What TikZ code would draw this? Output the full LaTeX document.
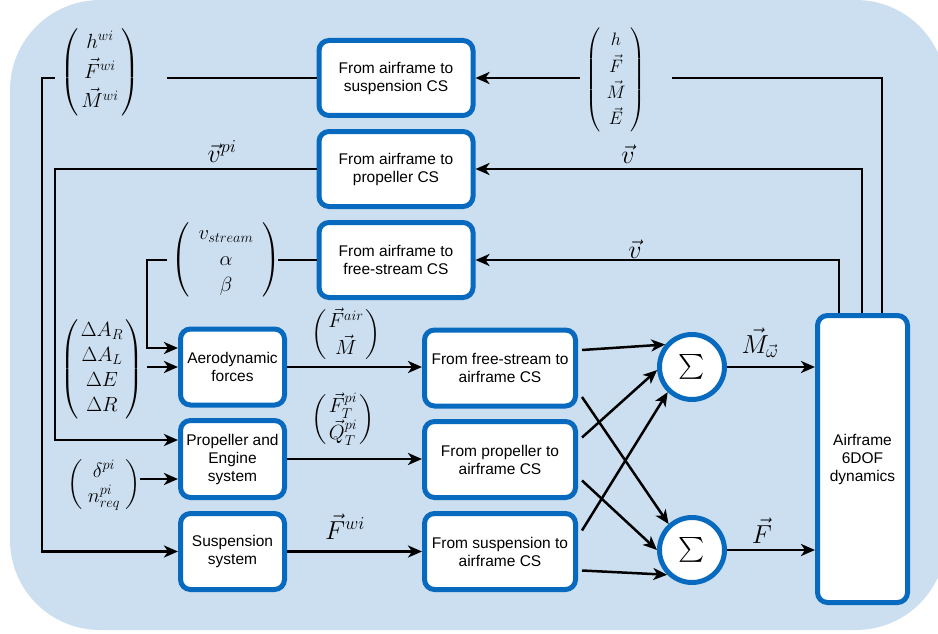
\RequirePackage{fix-cm}
\documentclass[tikz,border=0pt]{standalone}
\usepackage{amsmath}
\usepackage{fontspec}
\newfontfamily\boxfont{Liberation Sans}
\usetikzlibrary{arrows.meta,calc}

\definecolor{bgblue}{RGB}{204,223,240}
\definecolor{edgeblue}{RGB}{8,106,190}

% column vector in round brackets: [side padding]{row stretch}{rows}
\newcommand{\vecmat}[3][0pt]{%
  \renewcommand\arraystretch{#2}%
  \left(\hspace{#1}\begin{matrix}#3\end{matrix}\hspace{#1}\right)}

\tikzset{
  blk/.style={draw=edgeblue, line width=5pt, fill=white, rounded corners=10pt,
    font=\boxfont\fontsize{15.5}{18}\selectfont, align=center, inner sep=0pt},
  topblk/.style={blk, minimum width=154pt, minimum height=75pt},
  leftblk/.style={blk, minimum width=104pt, minimum height=76pt},
  midblk/.style={blk, minimum width=151pt, minimum height=76pt},
  sumnode/.style={circle, draw=edgeblue, line width=5pt, fill=white,
    minimum size=65pt, inner sep=0pt, font=\fontsize{24}{28}\selectfont},
  wire/.style={line width=2.5pt},
  arr/.style={wire, -{Stealth[length=14pt,width=12pt,inset=4pt]}},
  mlabel/.style={inner sep=0pt, font=\fontsize{20.5}{25}\selectfont},
  vlabel/.style={inner sep=0pt, font=\fontsize{26}{30}\selectfont},
}

\begin{document}
\begin{tikzpicture}[x=1pt,y=-1pt]
\useasboundingbox (0,0) rectangle (938,634);
\begin{scope}
  \clip (0,0) rectangle (938,634);
  \fill[bgblue, rounded corners=90pt] (10,0) rectangle (946,630);
\end{scope}

% coordinate transformation blocks (top row)
\node[topblk] (b1) at (396,78)  {From airframe to\\suspension CS};
\node[topblk] (b2) at (396,169) {From airframe to\\propeller CS};
\node[topblk] (b3) at (396,260) {From airframe to\\free-stream CS};

% force and moment models
\node[leftblk] (aero) at (232.5,367)   {Aerodynamic\\forces};
\node[leftblk, minimum height=77pt] (prop) at (232.5,459) {Propeller and\\Engine\\system};
\node[leftblk] (susp) at (232.5,551.5) {Suspension\\system};

% back to the airframe frame
\node[midblk] (fs)   at (500,368)   {From free-stream to\\airframe CS};
\node[midblk] (pr)   at (500,459.5) {From propeller to\\airframe CS};
\node[midblk] (sus2) at (500,551.5) {From suspension to\\airframe CS};

% summation and rigid body dynamics
\node[sumnode] (st) at (692,367) {$\textstyle\sum$};
\node[sumnode] (sb) at (692,550) {$\textstyle\sum$};
\node[blk, minimum width=90pt, minimum height=287pt] (af) at (862.5,459)
  {Airframe\\6DOF\\dynamics};

% feedback: states to the suspension
\coordinate (r1) at (882,78);
\coordinate (m1r) at (672,78);
\coordinate (m1l) at (580,78);
\coordinate (w1r) at (167,78);
\coordinate (w1l) at (55,78);
\coordinate (w1c) at (42,78);
\draw[wire] (af.north -| r1) -- (r1) -- (m1r);
\draw[arr] (m1l) -- (b1.east);
\draw[wire] (b1.west) -- (w1r);
\draw[arr] (w1l) -- (w1c) |- (susp.west);

% feedback: velocity to the propeller
\coordinate (r2) at (862,169);
\coordinate (c2) at (55,169);
\draw[arr] (af.north -| r2) |- (b2.east);
\draw[arr] (b2.west) -- (c2) |- ($(prop.west)+(0,-19)$);

% feedback: velocity to the aerodynamics
\coordinate (r3) at (839,260);
\coordinate (v3r) at (278,260);
\coordinate (v3l) at (167,260);
\coordinate (v3c) at (147,260);
\draw[arr] (af.north -| r3) |- (b3.east);
\draw[wire] (b3.west) -- (v3r);
\draw[arr] (v3l) -- (v3c) |- ($(aero.west)+(0,-19)$);

% control inputs
\coordinate (dA) at (147,367);
\coordinate (dn) at (140,479);
\draw[arr] (dA) -- (aero.west);
\draw[arr] (dn) -- ($(prop.west)+(0,20)$);

% model outputs
\draw[arr] (aero.east) -- (aero.east -| fs.west);
\draw[arr] (prop.east) -- (prop.east -| pr.west);
\draw[arr] (susp.east) -- (susp.east -| sus2.west);

% into the sums
\draw[arr] ($(fs.east)+(4,-18)$)   -- (st.140);
\draw[arr] ($(fs.east)+(4,29)$)    -- (sb.132);
\draw[arr] ($(pr.east)+(4,-22)$)   -- (st.185);
\draw[arr] ($(pr.east)+(4,21)$)    -- (sb.180);
\draw[arr] ($(sus2.east)+(4,-21)$) -- (st.226);
\draw[arr] ($(sus2.east)+(4,19)$)  -- (sb.225);

% into the dynamics
\draw[arr] (st.east) -- (st.east -| af.west);
\draw[arr] (sb.east) -- (sb.east -| af.west);

% signal labels
\node[mlabel] (lhw) at (100,72)
  {$\vecmat[2.5pt]{1.2}{h^{wi}\\ \vec{F}^{wi}\\ \vec{M}^{wi}}$};
\node[mlabel, font=\fontsize{18}{25}\selectfont] (lstate) at (616,80)
  {$\vecmat[5.5pt]{1.05}{h\\ \vec{F}\\ \vec{M}\\ \vec{E}}$};
\node[vlabel, anchor=base] (lvpi) at (222,162) {$\vec{v}^{pi}$};
\node[vlabel, anchor=base] (lv1) at (628,164) {$\vec{v}$};
\node[vlabel, anchor=base] (lv2) at (635,258) {$\vec{v}$};
\node[mlabel] (lvab) at (226,260)
  {$\vecmat[9pt]{1.05}{v_{stream}\\ \alpha\\ \beta}$};
\node[mlabel] (lctrl) at (102,369)
  {$\vecmat[2.5pt]{1.0}{\Delta A_R\\ \Delta A_L\\ \Delta E\\ \Delta R}$};
\node[mlabel] (lthr) at (104,485)
  {$\vecmat[5pt]{1.0}{\delta^{pi}\\ n^{pi}_{req}}$};
\node[mlabel] (lair) at (346,335)
  {$\vecmat[2pt]{1.0}{\vec{F}^{air}\\ \vec{M}}$};
\node[mlabel] (lprop) at (343,420)
  {$\vecmat[2.5pt]{1.0}{\vec{F}^{pi}_T\\ \vec{Q}^{pi}_T}$};
\node[vlabel, anchor=base] (lfwi) at (345,539) {$\vec{F}^{wi}$};
\node[vlabel, anchor=base] (lmom) at (760,353) {$\vec{M}_{\vec{\omega}}$};
\node[vlabel, anchor=base] (lforce) at (762,543) {$\vec{F}$};
\end{tikzpicture}
\end{document}
